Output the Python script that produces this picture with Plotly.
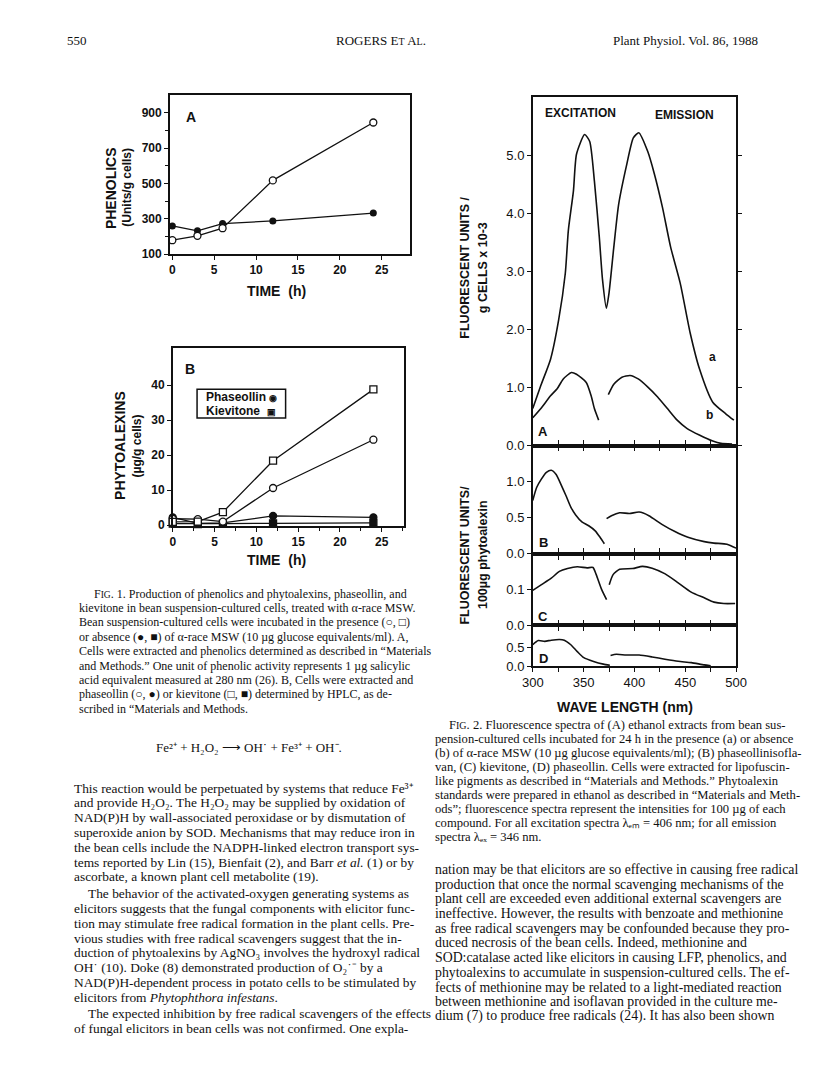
import plotly.graph_objects as go

W, H = 816, 1073

# ---------------- data: Fig 1A (phenolics) ----------------
time_a = [0, 3, 6, 12, 24]
phen_plus = [179, 204, 247, 518, 846]
phen_minus = [260, 232, 273, 288, 333]

# ---------------- data: Fig 1B (phytoalexins) ----------------
time_b = [0, 3, 6, 12, 24]
kiev_plus = [0.9, 1.0, 3.7, 18.4, 38.8]
phas_plus = [1.8, 1.7, 1.0, 10.6, 24.4]
phas_minus = [2.2, 0.5, 0.6, 2.6, 2.2]
kiev_minus = [0.4, 0.3, 0.4, 0.5, 0.6]

# ---------------- data: Fig 2 spectra ----------------
wl_a = [300, 308, 317.5, 325.5, 332, 335, 340, 343, 351, 356, 360.6, 365.4, 368.6, 372.4,
        375, 379.7, 384.5, 392.5, 398.9, 404.3, 413, 419.6, 427.6, 435.6, 445, 454.7, 464,
        477, 489.8, 497.8]
int_a = [0.64, 1.04, 1.49, 2.17, 2.97, 3.71, 4.39, 5.02, 5.36, 5.24, 4.56, 3.6, 2.86, 2.37,
         2.63, 3.42, 4.16, 4.85, 5.3, 5.39, 5.07, 4.68, 4.1, 3.42, 2.8, 1.95, 1.32,
         0.75, 0.55, 0.44]
wl_b_ex = [300, 308, 317.5, 324, 330, 338, 343, 352.6, 357.4, 360.6, 364.8]
int_b_ex = [0.48, 0.64, 0.86, 0.98, 1.15, 1.26, 1.23, 1.09, 0.86, 0.64, 0.44]
wl_b_em = [374.3, 379.7, 387.7, 395.7, 403.7, 413.2, 422.8, 432.4, 442, 451.5, 464.3, 477, 485, 496]
int_b_em = [0.88, 1.06, 1.18, 1.21, 1.15, 1.01, 0.84, 0.64, 0.44, 0.30, 0.18, 0.08, 0.04, 0.03]

wl_B_ex = [300, 303.8, 308.6, 313.4, 318.2, 323, 327.8, 332.6, 337.4, 342.2, 348.6, 355, 361.4, 366.2, 370.4]
int_B_ex = [0.74, 0.92, 1.04, 1.13, 1.16, 1.10, 0.96, 0.81, 0.65, 0.54, 0.44, 0.39, 0.32, 0.23, 0.14]
wl_B_em = [372.6, 377.4, 385.4, 395, 404.6, 414.2, 427, 439.8, 452.6, 468.6, 478.2, 491, 500]
int_B_em = [0.49, 0.53, 0.57, 0.56, 0.58, 0.53, 0.41, 0.31, 0.23, 0.17, 0.15, 0.135, 0.08]

wl_C_ex = [300, 308.6, 318.2, 326.2, 334.2, 343.8, 353.4, 359.2, 362.4, 367.8, 372.6]
int_C_ex = [0.098, 0.114, 0.132, 0.151, 0.159, 0.164, 0.161, 0.162, 0.142, 0.10, 0.072]
wl_C_em = [375.2, 379, 385.4, 398.2, 407.8, 417.4, 430.2, 443, 455.8, 468.6, 478.2, 487.8, 499]
int_C_em = [0.114, 0.142, 0.157, 0.159, 0.165, 0.16, 0.144, 0.119, 0.093, 0.077, 0.065, 0.061, 0.061]

wl_D_ex = [300, 305.4, 311.8, 318.2, 326.2, 331, 337.4, 343.8, 350.2, 359.8, 369.4, 375.8]
int_D_ex = [0.56, 0.67, 0.65, 0.68, 0.70, 0.68, 0.56, 0.38, 0.22, 0.12, 0.05, 0.02]
wl_D_em = [376.5, 382.2, 392, 404.6, 417.4, 430, 443, 456, 468.6, 475]
int_D_em = [0.28, 0.31, 0.29, 0.29, 0.24, 0.18, 0.125, 0.09, 0.03, 0.01]

# ---------------- text ----------------
header_left = "550"
header_mid = "ROGERS E<span style='font-size:10px'>T</span> A<span style='font-size:10px'>L</span>."
header_right = "Plant Physiol. Vol. 86, 1988"

cap1_lines = [
    "F<span style='font-size:9.5px'>IG</span>. 1. Production of phenolics and phytoalexins, phaseollin, and",
    "kievitone in bean suspension-cultured cells, treated with α-race MSW.",
    "Bean suspension-cultured cells were incubated in the presence (○, □)",
    "or absence (●, ■) of α-race MSW (10 µg glucose equivalents/ml). A,",
    "Cells were extracted and phenolics determined as described in “Materials",
    "and Methods.” One unit of phenolic activity represents 1 µg salicylic",
    "acid equivalent measured at 280 nm (26). B, Cells were extracted and",
    "phaseollin (○, ●) or kievitone (□, ■) determined by HPLC, as de-",
    "scribed in “Materials and Methods.",
]
cap2_lines = [
    "F<span style='font-size:10px'>IG</span>. 2. Fluorescence spectra of (A) ethanol extracts from bean sus-",
    "pension-cultured cells incubated for 24 h in the presence (a) or absence",
    "(b) of α-race MSW (10 µg glucose equivalents/ml); (B) phaseollinisofla-",
    "van, (C) kievitone, (D) phaseollin. Cells were extracted for lipofuscin-",
    "like pigments as described in “Materials and Methods.” Phytoalexin",
    "standards were prepared in ethanol as described in “Materials and Meth-",
    "ods”; fluorescence spectra represent the intensities for 100 µg of each",
    "compound. For all excitation spectra λₑₘ = 406 nm; for all emission",
    "spectra λₑₓ = 346 nm.",
]
equation = "Fe²⁺ + H₂O₂ ⟶ OH˙ + Fe³⁺ + OH⁻."
left_body = [
    ("This reaction would be perpetuated by systems that reduce Fe³⁺", 0),
    ("and provide H₂O₂. The H₂O₂ may be supplied by oxidation of", 0),
    ("NAD(P)H by wall-associated peroxidase or by dismutation of", 0),
    ("superoxide anion by SOD. Mechanisms that may reduce iron in", 0),
    ("the bean cells include the NADPH-linked electron transport sys-", 0),
    ("tems reported by Lin (15), Bienfait (2), and Barr <i>et al.</i> (1) or by", 0),
    ("ascorbate, a known plant cell metabolite (19).", 0),
    ("The behavior of the activated-oxygen generating systems as", 1),
    ("elicitors suggests that the fungal components with elicitor func-", 0),
    ("tion may stimulate free radical formation in the plant cells. Pre-", 0),
    ("vious studies with free radical scavengers suggest that the in-", 0),
    ("duction of phytoalexins by AgNO₃ involves the hydroxyl radical", 0),
    ("OH˙ (10). Doke (8) demonstrated production of O₂˙⁻ by a", 0),
    ("NAD(P)H-dependent process in potato cells to be stimulated by", 0),
    ("elicitors from <i>Phytophthora infestans</i>.", 0),
    ("The expected inhibition by free radical scavengers of the effects", 1),
    ("of fungal elicitors in bean cells was not confirmed. One expla-", 0),
]
right_body = [
    "nation may be that elicitors are so effective in causing free radical",
    "production that once the normal scavenging mechanisms of the",
    "plant cell are exceeded even additional external scavengers are",
    "ineffective. However, the results with benzoate and methionine",
    "as free radical scavengers may be confounded because they pro-",
    "duced necrosis of the bean cells. Indeed, methionine and",
    "SOD:catalase acted like elicitors in causing LFP, phenolics, and",
    "phytoalexins to accumulate in suspension-cultured cells. The ef-",
    "fects of methionine may be related to a light-mediated reaction",
    "between methionine and isoflavan provided in the culture me-",
    "dium (7) to produce free radicals (24). It has also been shown",
]

# ---------------- helpers ----------------
def px(x):
    return x / W

def py(y):
    return 1 - y / H

def dom_x(a, b):
    return [a / W, b / W]

def dom_y(top, bottom):
    return [1 - bottom / H, 1 - top / H]

SANS = "Liberation Sans"
SERIF = "Liberation Serif"
BLACK = "#111111"

fig = go.Figure()

# Fig 1A traces
fig.add_trace(go.Scatter(x=time_a, y=phen_minus, mode="lines+markers", xaxis="x", yaxis="y",
                         line=dict(color=BLACK, width=1.3),
                         marker=dict(symbol="circle", size=7, color=BLACK), cliponaxis=False))
fig.add_trace(go.Scatter(x=time_a, y=phen_plus, mode="lines+markers", xaxis="x", yaxis="y",
                         line=dict(color=BLACK, width=1.3),
                         marker=dict(symbol="circle", size=7, color="white",
                                     line=dict(color=BLACK, width=1.3)), cliponaxis=False))

# Fig 1B traces
for ys, sym, fill in [(kiev_minus, "square", BLACK), (phas_minus, "circle", BLACK),
                      (phas_plus, "circle", "white"), (kiev_plus, "square", "white")]:
    fig.add_trace(go.Scatter(x=time_b, y=ys, mode="lines+markers", xaxis="x2", yaxis="y2",
                             line=dict(color=BLACK, width=1.3),
                             marker=dict(symbol=sym, size=7, color=fill,
                                         line=dict(color=BLACK, width=1.3)),
                             cliponaxis=False))

# Fig 2 traces
spec = [
    ("x3", "y3", wl_a, int_a), ("x3", "y3", wl_b_ex, int_b_ex), ("x3", "y3", wl_b_em, int_b_em),
    ("x4", "y4", wl_B_ex, int_B_ex), ("x4", "y4", wl_B_em, int_B_em),
    ("x5", "y5", wl_C_ex, int_C_ex), ("x5", "y5", wl_C_em, int_C_em),
    ("x6", "y6", wl_D_ex, int_D_ex), ("x6", "y6", wl_D_em, int_D_em),
]
for xa, ya, xs, ys in spec:
    fig.add_trace(go.Scatter(x=xs, y=ys, mode="lines", xaxis=xa, yaxis=ya,
                             line=dict(color=BLACK, width=1.6, shape="spline", smoothing=0.6),
                             cliponaxis=False))

axis_common = dict(showline=True, linecolor=BLACK, linewidth=1.5, showgrid=False,
                   zeroline=False, ticks="outside", tickcolor=BLACK, ticklen=4, tickwidth=1.3)
f2_tick = dict(family=SANS, size=13, color=BLACK)
f1_tick = dict(family=SANS, size=12, color=BLACK, weight="bold")

layout = dict(
    width=W, height=H, margin=dict(l=0, r=0, t=0, b=0),
    paper_bgcolor="white", plot_bgcolor="white", showlegend=False,
    # Fig 1A
    xaxis=dict(**axis_common, domain=dom_x(155, 402), anchor="y", range=[-0.3, 28.4],
               tickvals=[0, 5, 10, 15, 20, 25], mirror=True, tickfont=f1_tick),
    yaxis=dict(**axis_common, domain=dom_y(88, 248), anchor="x", range=[100, 1000],
               tickvals=[100, 300, 500, 700, 900], mirror=True,
               minor=dict(tickvals=[200, 400, 600, 800], ticks="outside", ticklen=3, tickcolor=BLACK),
               tickfont=f1_tick),
    # Fig 1B
    xaxis2=dict(**axis_common, domain=dom_x(158, 396), anchor="y2", range=[0, 27.7],
                tickvals=[0, 5, 10, 15, 20, 25], mirror=True,
                minor=dict(dtick=2.5, ticks="outside", ticklen=3, tickcolor=BLACK),
                tickfont=f1_tick),
    yaxis2=dict(**axis_common, domain=dom_y(343, 522), anchor="x2", range=[-0.3, 50.5],
                tickvals=[0, 10, 20, 30, 40], mirror=True, tickfont=f1_tick),
)

# Fig 2 panels
panels = [
    ("3", 90, 441, [0, 6], [0, 1, 2, 3, 4, 5], ["0.0", "1.0", "2.0", "3.0", "4.0", "5.0"]),
    ("4", 441, 550, [0, 1.5], [0, 0.5, 1.0], ["0.0", "0.5", "1.0"]),
    ("5", 550, 622, [0, 0.2], [0, 0.1], ["0.0", "0.1"]),
    ("6", 622, 663, [0, 1.07], [0, 0.5], ["0.0", "0.5"]),
]
for k, top, bot, yr, tv, tt in panels:
    last = k == "6"
    layout["xaxis" + k] = dict(**axis_common, domain=dom_x(528, 737), anchor="y" + k,
                               range=[300, 500], tickvals=[300, 350, 400, 450, 500],
                               showticklabels=last, tickfont=f2_tick,
                               mirror=(True if k == "3" else "ticks"),
                               minor=dict(tickvals=[325, 375, 425, 475], ticks="outside",
                                          ticklen=4, tickcolor=BLACK, tickwidth=1.3))
    layout["yaxis" + k] = dict(**axis_common, domain=dom_y(top, bot), anchor="x" + k,
                               range=yr, tickvals=tv, ticktext=tt, tickfont=f2_tick,
                               mirror=("ticks" if k == "3" else True))

fig.update_layout(**layout)

ann = []

def text(x, y, t, size=12, family=SANS, bold=False, xanchor="center", yanchor="middle",
         angle=0, color=BLACK):
    ann.append(dict(x=px(x), y=py(y), xref="paper", yref="paper", text=t, showarrow=False,
                    xanchor=xanchor, yanchor=yanchor, textangle=angle,
                    font=dict(family=family, size=size, color=color,
                              weight=("bold" if bold else "normal"))))

# header
text(47, 33, header_left, 13, SERIF, xanchor="left")
text(372, 33, header_mid, 13, SERIF)
text(762, 33, header_right, 13, SERIF, xanchor="right")

# Fig 1A labels
text(177, 110, "A", 14, bold=True)
text(265, 285, "TIME  (h)", 14, bold=True)
text(94, 181, "PHENOLICS", 14, bold=True, angle=-90)
text(111, 181, "(Units/g cells)", 12, bold=True, angle=-90)

# Fig 1B labels
text(176, 364, "B", 14, bold=True)
text(265, 556, "TIME  (h)", 14, bold=True)
text(103, 441, "PHYTOALEXINS", 14, bold=True, angle=-90)
text(121, 441, "(µg/g cells)", 12, bold=True, angle=-90)
# legend box of Fig 1B
shapes = [dict(type="rect", xref="paper", yref="paper", x0=px(183), x1=px(274), y0=py(413), y1=py(384),
               line=dict(color=BLACK, width=1.5), fillcolor="white")]
text(190, 392, "Phaseollin <span style='font-size:9px'>◉</span>", 12, bold=True, xanchor="left")
text(190, 406, "Kievitone  <span style='font-size:9px'>▣</span>", 12, bold=True, xanchor="left")

# Fig 2 labels
text(577, 106, "EXCITATION", 12, bold=True)
text(684, 108, "EMISSION", 12, bold=True)
text(713, 352, "a", 12, bold=True)
text(710, 410, "b", 12, bold=True)
text(539, 427, "A", 13, bold=True)
text(539, 539, "B", 13, bold=True)
text(539, 613, "C", 13, bold=True)
text(539, 655, "D", 13, bold=True)
text(623, 704, "WAVE LENGTH (nm)", 14, bold=True)
text(458, 262, "FLUORESCENT UNITS /", 12.5, bold=True, angle=-90)
text(477, 262, "g CELLS x 10-3", 12.5, bold=True, angle=-90)
text(458, 551, "FLUORESCENT UNITS/", 12.5, bold=True, angle=-90)
text(477, 551, "100µg phytoalexin", 12.5, bold=True, angle=-90)

# captions
for i, line in enumerate(cap1_lines):
    text(75 if i == 0 else 60, 590 + i * 14.5, line, 12, SERIF, xanchor="left")
for i, line in enumerate(cap2_lines):
    text(440 if i == 0 else 425, 722 + i * 14.2, line, 12.6, SERIF, xanchor="left")

text(236, 745, equation, 13, SERIF)

y = 786
for i, (line, indent) in enumerate(left_body):
    if indent and i > 0:
        y += 2
    text(54 + 15 * indent, y, line, 13.4, SERIF, xanchor="left")
    y += 14.9

for i, line in enumerate(right_body):
    text(425, 868 + i * 14.8, line, 13.8, SERIF, xanchor="left")

fig.update_layout(annotations=ann, shapes=shapes)
fig.write_html("out.html")
